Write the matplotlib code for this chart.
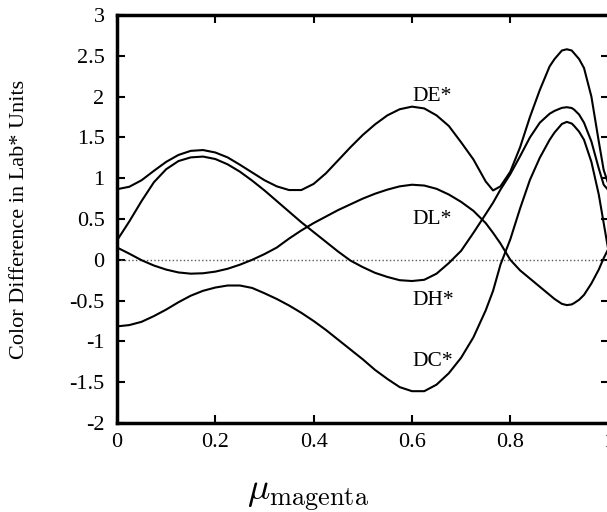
import matplotlib
matplotlib.use("Agg")
import matplotlib.pyplot as plt

plt.rcParams['font.family'] = ['Liberation Serif', 'DejaVu Serif']
plt.rcParams['mathtext.fontset'] = 'cm'

# values
mu = [0, 0.025, 0.05, 0.075, 0.1, 0.125, 0.15, 0.175, 0.2, 0.225,
      0.25, 0.275, 0.3, 0.325, 0.35, 0.375, 0.4, 0.425, 0.45, 0.475,
      0.5, 0.525, 0.55, 0.575, 0.6, 0.625, 0.65, 0.675, 0.7, 0.725,
      0.75, 0.765, 0.78, 0.8, 0.82, 0.84, 0.86, 0.88, 0.89, 0.9,
      0.905, 0.915, 0.925, 0.93, 0.94, 0.95, 0.965, 0.98, 0.99, 1.0]

de = [0.865, 0.895, 0.975, 1.09, 1.20, 1.285, 1.335, 1.345, 1.315, 1.255,
      1.165, 1.07, 0.975, 0.90, 0.855, 0.855, 0.93, 1.06, 1.22, 1.38,
      1.53, 1.66, 1.77, 1.845, 1.877, 1.855, 1.77, 1.64, 1.44, 1.23,
      0.96, 0.85, 0.90, 1.08, 1.38, 1.75, 2.08, 2.37, 2.46, 2.53,
      2.565, 2.58, 2.565, 2.53, 2.46, 2.35, 2.0, 1.45, 1.1, 0.92]

dh = [0.237, 0.47, 0.72, 0.95, 1.11, 1.21, 1.255, 1.265, 1.235, 1.17,
      1.08, 0.97, 0.85, 0.72, 0.59, 0.46, 0.34, 0.22, 0.10, -0.01,
      -0.09, -0.16, -0.21, -0.25, -0.26, -0.245, -0.17, -0.04, 0.11, 0.33,
      0.56, 0.70, 0.86, 1.05, 1.27, 1.50, 1.68, 1.79, 1.825, 1.85,
      1.862, 1.87, 1.86, 1.84, 1.78, 1.68, 1.45, 1.12, 0.92, 0.85]

dl = [0.151, 0.075, -0.005, -0.07, -0.12, -0.155, -0.17, -0.165, -0.145, -0.11,
      -0.06, 0.0, 0.07, 0.15, 0.26, 0.36, 0.45, 0.53, 0.61, 0.68,
      0.75, 0.81, 0.86, 0.90, 0.92, 0.91, 0.87, 0.80, 0.71, 0.60,
      0.45, 0.33, 0.20, 0.0, -0.13, -0.23, -0.33, -0.43, -0.48, -0.52,
      -0.54, -0.555, -0.547, -0.53, -0.49, -0.43, -0.29, -0.12, 0.02, 0.14]

dc = [-0.816, -0.80, -0.76, -0.69, -0.61, -0.52, -0.44, -0.38, -0.34, -0.315,
      -0.315, -0.345, -0.41, -0.48, -0.56, -0.65, -0.75, -0.86, -0.98, -1.10,
      -1.22, -1.35, -1.46, -1.56, -1.61, -1.61, -1.53, -1.39, -1.20, -0.95,
      -0.62, -0.38, -0.06, 0.25, 0.63, 0.98, 1.25, 1.47, 1.56, 1.63,
      1.665, 1.69, 1.67, 1.64, 1.57, 1.47, 1.20, 0.80, 0.45, 0.10]

labels = ['DE*', 'DL*', 'DH*', 'DC*']
label_y = [2.0, 0.5, -0.5, -1.25]
label_x = 0.6

xticks = [0, 0.2, 0.4, 0.6, 0.8, 1]
xticklabels = ['0', '0.2', '0.4', '0.6', '0.8', '1']
yticks = [-2, -1.5, -1, -0.5, 0, 0.5, 1, 1.5, 2, 2.5, 3]
yticklabels = ['-2', '-1.5', '-1', '-0.5', '0', '0.5', '1', '1.5', '2', '2.5', '3']

fig = plt.figure(figsize=(6.07, 5.12), dpi=100)
ax = fig.add_axes([117 / 607, 89 / 512, 491.6 / 607, 408 / 512])

ax.axhline(0, color='0.35', ls=':', lw=1.0)
for series in (de, dh, dl, dc):
    ax.plot(mu, series, color='black', lw=1.5, solid_joinstyle='round')

for name, ly in zip(labels, label_y):
    ax.text(label_x, ly, name, fontsize=15.5, ha='left', va='center')

ax.set_xlim(0, 1)
ax.set_ylim(-2, 3)
ax.set_xticks(xticks)
ax.set_xticklabels(xticklabels)
ax.set_yticks(yticks)
ax.set_yticklabels(yticklabels)
ax.tick_params(direction='in', length=6, width=1.5, top=True, right=True,
               labelsize=16)
ax.tick_params(axis='x', pad=7)
ax.tick_params(axis='y', pad=9)
for sp in ax.spines.values():
    sp.set_linewidth(2.5)

ax.set_ylabel('Color Difference in Lab* Units', fontsize=16)
ax.yaxis.set_label_coords(-0.179, 0.5)
fig.text(308 / 607, 1 - 496 / 512, r'$\mu_{\rm magenta}$', fontsize=27,
         ha='center', va='center')

fig.savefig('out.png', dpi=100)
